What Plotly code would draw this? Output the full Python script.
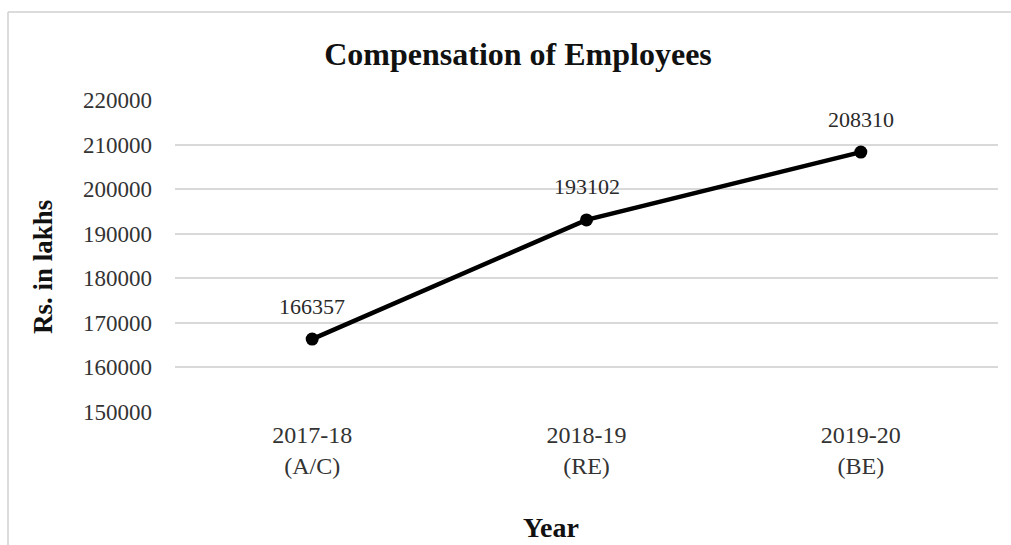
import plotly.graph_objects as go

# Compensation of employees, Rs. in lakhs
years = ["2017-18<br>(A/C)", "2018-19<br>(RE)", "2019-20<br>(BE)"]
amounts = [166357, 193102, 208310]
y_ticks = [150000, 160000, 170000, 180000, 190000, 200000, 210000, 220000]

W, H = 1011, 545
L, R, T, B = 175, 13, 100, 133
pw, ph = W - L - R, H - T - B
SERIF = "Liberation Serif"

fig = go.Figure()
fig.add_trace(go.Scatter(
    x=years, y=amounts,
    mode="lines+markers",
    line=dict(color="black", width=4.5),
    marker=dict(color="black", size=13),
    hoverinfo="skip",
))

# Value labels above each point
for x, v in zip(years, amounts):
    fig.add_annotation(x=x, y=v, text=str(v), showarrow=False,
                       yshift=33, font=dict(family=SERIF, size=22, color="#2a2a2a"))

# Outer chart border (top and left edges)
bx0 = (8 - L) / pw
by1 = (H - B - 12) / ph
fig.add_shape(type="line", xref="paper", yref="paper",
              x0=bx0, x1=(W + 5 - L) / pw, y0=by1, y1=by1,
              line=dict(color="#d0d0d0", width=1.5))
fig.add_shape(type="line", xref="paper", yref="paper",
              x0=bx0, x1=bx0, y0=by1, y1=(H - B - H - 5) / ph,
              line=dict(color="#d0d0d0", width=1.5))

# Axis titles
fig.add_annotation(xref="paper", yref="paper", x=(551 - L) / pw, y=(H - B - 527) / ph,
                   text="<b>Year</b>", showarrow=False, xanchor="center", yanchor="middle",
                   font=dict(family=SERIF, size=28, color="#111"))
fig.add_annotation(xref="paper", yref="paper", x=(43 - L) / pw, y=(H - B - 267) / ph,
                   text="<b>Rs. in lakhs</b>", showarrow=False, textangle=-90,
                   xanchor="center", yanchor="middle",
                   font=dict(family=SERIF, size=27, color="#111"))

fig.update_layout(
    width=W, height=H,
    margin=dict(l=L, r=R, t=T, b=B),
    paper_bgcolor="white", plot_bgcolor="white",
    showlegend=False,
    title=dict(text="<b>Compensation of Employees</b>", x=518 / W, xref="container",
               xanchor="center", y=1 - 54 / H, yanchor="middle",
               font=dict(family=SERIF, size=32, color="#111")),
    font=dict(family=SERIF, color="#333"),
)
fig.update_xaxes(
    type="category", range=[-0.5, 2.5],
    showgrid=False, showline=False, zeroline=False, ticks="",
    tickfont=dict(family=SERIF, size=24, color="#333"),
    ticklabelstandoff=6,
)
fig.update_yaxes(
    range=[150000, 220000], tickvals=y_ticks,
    ticktext=[str(v) for v in y_ticks],
    showgrid=True, gridcolor="#d9d9d9", gridwidth=1.5,
    zeroline=False, showline=False, ticks="",
    tickfont=dict(family=SERIF, size=23, color="#333"),
    ticklabelstandoff=22,
)

fig.write_html("out.html")
